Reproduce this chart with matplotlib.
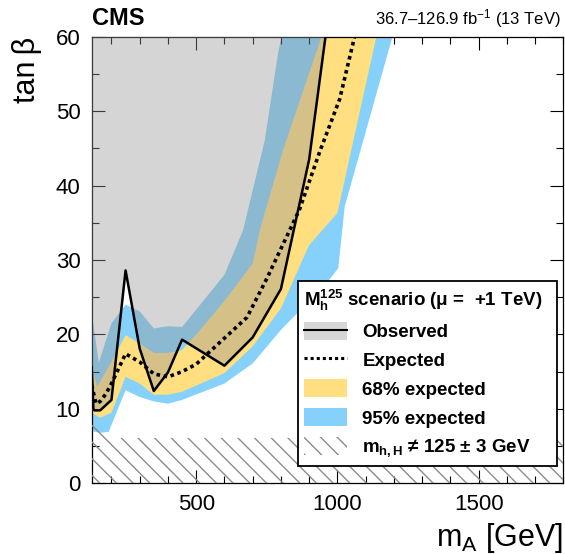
import matplotlib
matplotlib.use('Agg')
import matplotlib.pyplot as plt
from matplotlib.patches import Patch
from matplotlib.lines import Line2D
from matplotlib.ticker import MultipleLocator, FixedLocator

plt.rcParams['font.family'] = ['Liberation Sans', 'DejaVu Sans']
plt.rcParams['mathtext.fontset'] = 'custom'
plt.rcParams['mathtext.rm'] = 'Liberation Sans'
plt.rcParams['mathtext.it'] = 'Liberation Sans:italic'
plt.rcParams['mathtext.bf'] = 'Liberation Sans:bold'
plt.rcParams['hatch.linewidth'] = 1.0

# ---------------- data ----------------
obs_mA = [130, 136, 140, 160, 200, 250, 300, 350, 400, 450, 600, 700, 800, 900, 1000]
obs_tb = [15.6, 10.0, 9.8, 9.8, 11.2, 28.6, 18.1, 12.4, 14.9, 19.3, 15.8, 19.6, 26.1, 43.5, 72.0]

exp_mA = [130, 145, 160, 180, 200, 250, 300, 350, 400, 450, 500, 560, 680, 750, 866, 937, 1008, 1061, 1100]
exp_tb = [13.2, 10.7, 11.0, 12.0, 13.4, 17.4, 16.3, 14.7, 14.3, 15.0, 16.0, 18.1, 22.3, 27.5, 36.8, 44.5, 51.6, 60.0, 66.0]

up95_mA = [130, 155, 200, 250, 300, 350, 400, 450, 600, 666, 743, 790, 802, 850]
up95_tb = [23.0, 16.2, 21.5, 24.0, 23.1, 20.8, 21.1, 21.0, 28.0, 34.0, 46.1, 57.8, 60.0, 72.0]
lo95_mA = [130, 160, 190, 250, 300, 350, 400, 450, 600, 700, 800, 900, 962, 1003, 1026, 1195, 1250]
lo95_tb = [7.0, 6.8, 6.9, 12.5, 11.6, 11.0, 10.7, 11.2, 13.4, 16.1, 20.6, 24.5, 26.9, 28.9, 37.2, 60.0, 67.0]

up68_mA = [130, 150, 200, 250, 300, 350, 400, 450, 514, 600, 700, 726, 808, 944, 1000]
up68_tb = [15.5, 13.0, 16.3, 19.9, 18.8, 17.5, 17.5, 17.9, 20.6, 24.5, 29.5, 34.1, 44.8, 60.0, 67.0]
lo68_mA = [130, 160, 200, 250, 300, 350, 400, 450, 600, 700, 800, 900, 1000, 1138, 1200]
lo68_tb = [9.5, 8.8, 9.5, 14.3, 13.4, 11.9, 11.9, 12.3, 14.8, 18.4, 23.5, 32.0, 36.3, 60.0, 70.0]

hatch_mA = [130, 150, 200, 1800]
hatch_tb = [11.0, 7.5, 6.1, 6.1]

x_ticks = [500, 1000, 1500]
y_ticks = [0, 10, 20, 30, 40, 50, 60]

# ---------------- colours ----------------
c95 = '#85D1FB'
c68 = '#FFDF7F'
c_obs = (150/255, 150/255, 150/255)
c_hatch = '#8c8c8c'

fig = plt.figure(figsize=(5.65, 5.54), dpi=100)
ax = fig.add_axes([0.1623, 0.1276, 0.997 - 0.1623, 0.9338 - 0.1276])

# 95% band
ax.fill(up95_mA + lo95_mA[::-1], up95_tb + lo95_tb[::-1], color=c95, lw=0, zorder=1)
# 68% band
ax.fill(up68_mA + lo68_mA[::-1], up68_tb + lo68_tb[::-1], color=c68, lw=0, zorder=2)
# hatched region
ax.fill(hatch_mA + [1800, 130], hatch_tb + [0, 0], facecolor='none', edgecolor=c_hatch,
        hatch='\\\\', lw=0, zorder=3)
# observed excluded region
ax.fill(obs_mA + [1000, 130], obs_tb + [90, 90], color=c_obs, alpha=0.4, lw=0, zorder=4)
# lines
ax.plot(exp_mA, exp_tb, color='black', lw=2.6, ls=(0, (1, 1.0)), zorder=5)
ax.plot(obs_mA, obs_tb, color='black', lw=1.8, zorder=6)

ax.set_xlim(130, 1800)
ax.set_ylim(0, 60)

ax.xaxis.set_major_locator(FixedLocator(x_ticks))
ax.xaxis.set_minor_locator(MultipleLocator(100))
ax.yaxis.set_major_locator(FixedLocator(y_ticks))
ax.yaxis.set_minor_locator(MultipleLocator(5))
ax.tick_params(which='both', direction='in', top=True, right=True, labelsize=16, width=0.8)
ax.tick_params(which='major', length=9.5, pad=8)
ax.tick_params(which='minor', length=5)
for s in ax.spines.values():
    s.set_linewidth(0.9)

ax.set_xlabel(r'$\mathregular{m_{A}}$ [GeV]', fontsize=22, loc='right', labelpad=4)
ax.set_ylabel('tan\u2009β', fontsize=22, loc='top', labelpad=10)

fig.text(0.163, 0.945, 'CMS', fontsize=17, fontweight='bold', ha='left', va='bottom')
fig.text(0.992, 0.945, r'36.7–126.9 fb$^{-1}$ (13 TeV)', fontsize=12, ha='right', va='bottom')

handles = [
    (Patch(facecolor='#d6d6d6', edgecolor='none'), Line2D([], [], color='black', lw=1.5)),
    Line2D([], [], color='black', lw=2.2, ls=(0, (1, 1.0))),
    Patch(facecolor=c68, edgecolor='none'),
    Patch(facecolor=c95, edgecolor='none'),
    Patch(facecolor='white', edgecolor=c_hatch, hatch='\\\\', lw=0),
]
labels = ['Observed', 'Expected', '68% expected', '95% expected',
          r'$\mathbf{m_{h,H}}$ ≠ 125 ± 3 GeV']
leg = ax.legend(handles, labels, loc='lower left', bbox_to_anchor=(0.437, 0.039, 0.55, 0.41),
                mode='expand',
                title=r'$\mathbf{M_{h}^{125}}$ scenario (μ =  +1 TeV)',
                prop={'size': 13.5, 'weight': 'bold'}, title_fontproperties={'size': 13.5, 'weight': 'bold'},
                frameon=True, fancybox=False, framealpha=1, edgecolor='black',
                handlelength=2.3, handleheight=1.1, labelspacing=0.5, handletextpad=0.8,
                borderpad=0.35, borderaxespad=0, alignment='left')
leg.get_frame().set_linewidth(1.3)
leg.set_zorder(10)

fig.savefig('out.png', dpi=100)
